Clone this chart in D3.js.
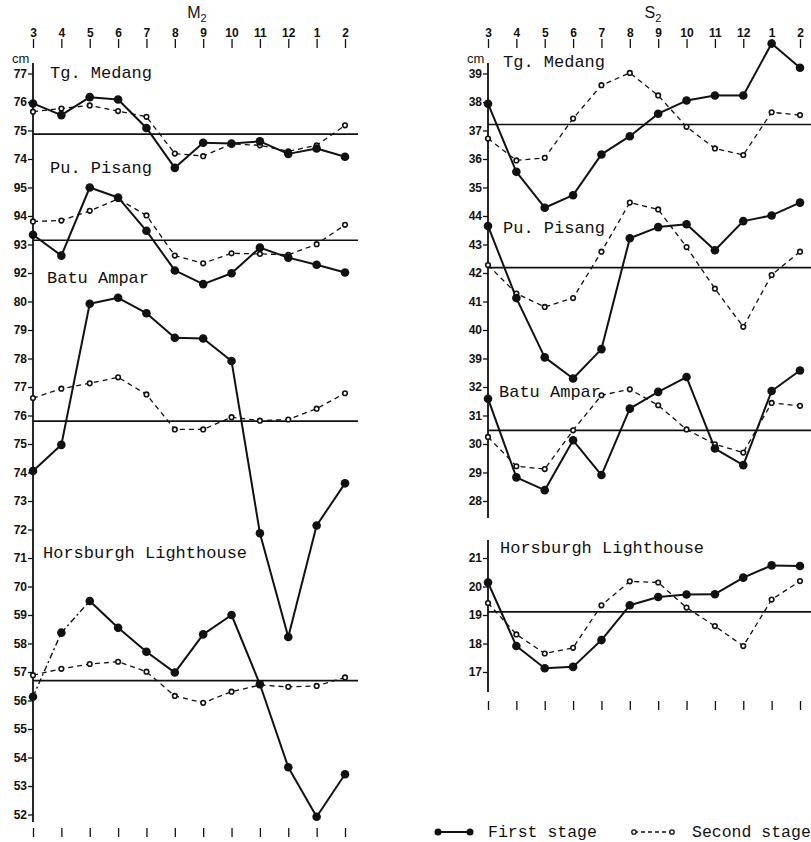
<!DOCTYPE html>
<html>
<head>
<meta charset="utf-8">
<script src="https://cdn.jsdelivr.net/npm/d3@7"></script>
<style>
body { margin: 0; background: #fff; }
.tick text { font-family: "Liberation Sans Narrow", "Liberation Sans", sans-serif; font-weight: bold; font-size: 12px; fill: #111; }
.tick line { stroke: #111; stroke-width: 1.3; }
.stn { font-family: "Liberation Mono", monospace; font-size: 17px; fill: #111; }
</style>
</head>
<body>
<script>
// months along the top (March to February)
var months = ["3","4","5","6","7","8","9","10","11","12","1","2"]
var stations = ["Tg. Medang", "Pu. Pisang", "Batu Ampar", "Horsburgh Lighthouse"]

// ---- M2 ----
var m2TopValue = [77, 95, 80, 59]
var m2TopRow = [0, 4, 8, 19]
var m2Ticks = [
  [77, 76, 75, 74],
  [95, 94, 93, 92],
  [80, 79, 78, 77, 76, 75, 74, 73, 72, 71, 70],
  [59, 58, 57, 56, 55, 54, 53, 52]
]
var m2Mean = [74.87, 93.15, 75.8, 56.7]
var m2First = [
  [75.95, 75.54, 76.17, 76.09, 75.09, 73.69, 74.57, 74.54, 74.62, 74.18, 74.37, 74.08],
  [93.34, 92.61, 95.0, 94.65, 93.48, 92.09, 91.61, 91.99, 92.89, 92.54, 92.29, 92.02],
  [74.05, 74.97, 79.92, 80.13, 79.59, 78.73, 78.70, 77.91, 71.87, 68.23, 72.14, 73.62],
  [56.13, 58.38, 59.49, 58.55, 57.71, 56.98, 58.32, 59.0, 56.57, 53.66, 51.92, 53.41]
]
var m2Second = [
  [75.66, 75.77, 75.88, 75.68, 75.48, 74.19, 74.10, 74.53, 74.48, 74.27, 74.48, 75.18],
  [93.81, 93.84, 94.18, 94.60, 94.02, 92.61, 92.34, 92.69, 92.67, 92.64, 93.01, 93.69],
  [76.61, 76.94, 77.13, 77.34, 76.74, 75.51, 75.51, 75.94, 75.82, 75.86, 76.24, 76.78],
  [56.89, 57.11, 57.28, 57.36, 57.01, 56.16, 55.92, 56.31, 56.54, 56.48, 56.51, 56.81]
]
// first-stage segments drawn dotted in the original (station, segment)
var m2DottedFirst = [[3, 0], [3, 1]]

// ---- S2 ----
var s2TopValue = [39, 44, 32, 21]
var s2TopRow = [0, 5, 11, 17]
var s2Ticks = [
  [39, 38, 37, 36, 35],
  [44, 43, 42, 41, 40, 39],
  [32, 31, 30, 29, 28],
  [21, 20, 19, 18, 17]
]
var s2Mean = [37.21, 42.19, 30.48, 19.11]
var s2First = [
  [37.94, 35.55, 34.29, 34.73, 36.16, 36.80, 37.59, 38.05, 38.23, 38.23, 40.05, 39.20],
  [43.65, 41.12, 39.04, 38.30, 39.33, 43.22, 43.61, 43.71, 42.80, 43.82, 44.02, 44.47],
  [31.59, 28.83, 28.38, 30.13, 28.91, 31.24, 31.83, 32.35, 29.84, 29.26, 31.86, 32.58],
  [20.14, 17.91, 17.13, 17.18, 18.12, 19.34, 19.63, 19.72, 19.73, 20.31, 20.74, 20.72]
]
var s2Second = [
  [36.72, 35.95, 36.04, 37.42, 38.59, 39.02, 38.23, 37.13, 36.37, 36.14, 37.64, 37.54],
  [42.28, 41.28, 40.81, 41.12, 42.75, 44.47, 44.23, 42.91, 41.45, 40.11, 41.93, 42.75],
  [30.25, 29.22, 29.12, 30.48, 31.71, 31.92, 31.36, 30.51, 29.99, 29.70, 31.44, 31.34],
  [19.42, 18.32, 17.65, 17.85, 19.34, 20.18, 20.14, 19.26, 18.61, 17.91, 19.54, 20.19]
]

var width = 811
var height = 842

var svg = d3.select("body").append("svg")
  .attr("width", width)
  .attr("height", height)

// one row = one cm on every sub-axis
var yRow = d3.scaleLinear().domain([0, 26]).range([73.5, 814.5])

function drawPanel(p) {
  var x = d3.scalePoint().domain(months).range([p.x0, p.x1])
  var g = svg.append("g")

  // title
  var t = g.append("text")
    .attr("x", (p.x0 + p.x1) / 2 + p.titleDx)
    .attr("y", 18)
    .attr("text-anchor", "middle")
    .style("font-family", "Liberation Sans, sans-serif")
    .style("font-size", "16px")
    .style("fill", "#111")
  t.append("tspan").text(p.title)
  t.append("tspan").attr("font-size", "11px").attr("dy", 4).text("2")

  // month ticks on top
  g.append("g")
    .attr("transform", "translate(0,48)")
    .call(d3.axisTop(x).tickSize(9).tickPadding(2))
    .call(function(a) { a.select(".domain").remove() })

  // blank ticks at the bottom
  g.append("g")
    .attr("transform", "translate(0," + p.bottomY + ")")
    .call(d3.axisBottom(x).tickSize(9).tickFormat(""))
    .call(function(a) { a.select(".domain").remove() })

  g.append("text")
    .attr("x", p.x0 - 21).attr("y", 63)
    .style("font-family", "Liberation Sans, sans-serif")
    .style("font-size", "13px")
    .style("fill", "#111")
    .text("cm")

  // vertical axis lines
  p.axisSpans.forEach(function(s) {
    g.append("line")
      .attr("x1", p.x0).attr("x2", p.x0)
      .attr("y1", s[0]).attr("y2", s[1])
      .attr("stroke", "#111").attr("stroke-width", 1.8)
  })

  var line = d3.line()
    .x(function(d) { return d[0] })
    .y(function(d) { return d[1] })

  stations.forEach(function(name, i) {
    var top = p.topValue[i], row = p.topRow[i]
    var y = d3.scaleLinear()
      .domain([top, top - 1])
      .range([yRow(row), yRow(row + 1)])

    g.append("g")
      .attr("transform", "translate(" + p.x0 + ",0)")
      .call(d3.axisLeft(y).tickValues(p.ticks[i]).tickSize(5).tickPadding(1)
        .tickFormat(function(d) { return String(d) }))
      .call(function(a) { a.select(".domain").remove() })

    // mean level
    g.append("line")
      .attr("x1", p.x0).attr("x2", p.meanEnd)
      .attr("y1", y(p.mean[i])).attr("y2", y(p.mean[i]))
      .attr("stroke", "#111").attr("stroke-width", 1.7)

    g.append("text")
      .attr("class", "stn")
      .attr("x", p.labelPos[i][0])
      .attr("y", p.labelPos[i][1])
      .text(name)

    var pts1 = p.first[i].map(function(v, j) { return [x(months[j]), y(v)] })
    var pts2 = p.second[i].map(function(v, j) { return [x(months[j]), y(v)] })

    // second stage: dashed, open circles
    g.append("path")
      .attr("d", line(pts2))
      .attr("fill", "none")
      .attr("stroke", "#111")
      .attr("stroke-width", 1.3)
      .attr("stroke-dasharray", "5,4")

    // first stage: solid, segment by segment
    for (var j = 0; j < pts1.length - 1; j++) {
      var dotted = p.dotted.some(function(d) { return d[0] == i && d[1] == j })
      g.append("path")
        .attr("d", line([pts1[j], pts1[j + 1]]))
        .attr("fill", "none")
        .attr("stroke", "#111")
        .attr("stroke-width", dotted ? 1.4 : 2)
        .attr("stroke-dasharray", dotted ? "6,3,2,3" : null)
    }

    g.selectAll(null).data(pts2).enter().append("circle")
      .attr("cx", function(d) { return d[0] })
      .attr("cy", function(d) { return d[1] })
      .attr("r", 2.3)
      .attr("fill", "#fff")
      .attr("stroke", "#111")
      .attr("stroke-width", 1.6)

    g.selectAll(null).data(pts1).enter().append("circle")
      .attr("cx", function(d) { return d[0] })
      .attr("cy", function(d) { return d[1] })
      .attr("r", 4.3)
      .attr("fill", "#111")
  })
}

drawPanel({
  title: "M", titleDx: 8, x0: 33, x1: 345, meanEnd: 358, bottomY: 828,
  axisSpans: [[63, 822]],
  topValue: m2TopValue, topRow: m2TopRow, ticks: m2Ticks, mean: m2Mean,
  first: m2First, second: m2Second, dotted: m2DottedFirst,
  labelPos: [[50, 78], [50, 173], [47, 283], [43, 558]]
})

drawPanel({
  title: "S", titleDx: 9, x0: 488, x1: 800, meanEnd: 811, bottomY: 701,
  axisSpans: [[63, 518], [540, 692]],
  topValue: s2TopValue, topRow: s2TopRow, ticks: s2Ticks, mean: s2Mean,
  first: s2First, second: s2Second, dotted: [],
  labelPos: [[503, 67], [503, 233], [499, 397], [500, 553]]
})

// legend
var leg = svg.append("g")
leg.append("line").attr("x1", 438).attr("x2", 470).attr("y1", 832).attr("y2", 832)
  .attr("stroke", "#111").attr("stroke-width", 2)
leg.selectAll(null).data([438, 470]).enter().append("circle")
  .attr("cx", function(d) { return d }).attr("cy", 832).attr("r", 3.5).attr("fill", "#111")
leg.append("text").attr("class", "stn").attr("x", 488).attr("y", 837)
  .style("font-size", "16.5px").text("First stage")
leg.append("line").attr("x1", 634).attr("x2", 672).attr("y1", 832).attr("y2", 832)
  .attr("stroke", "#111").attr("stroke-width", 1.3).attr("stroke-dasharray", "4,3")
leg.selectAll(null).data([634, 672]).enter().append("circle")
  .attr("cx", function(d) { return d }).attr("cy", 832).attr("r", 2.2)
  .attr("fill", "#fff").attr("stroke", "#111").attr("stroke-width", 1.3)
leg.append("text").attr("class", "stn").attr("x", 692).attr("y", 837)
  .style("font-size", "16.5px").text("Second stage")
</script>
</body>
</html>
